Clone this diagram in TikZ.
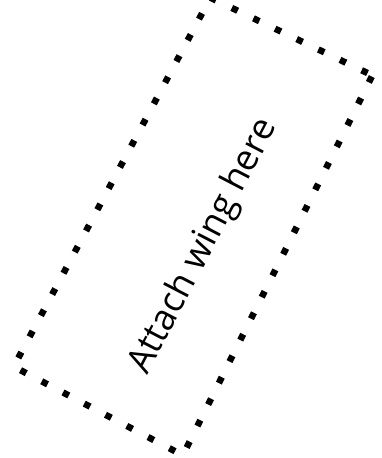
\documentclass[tikz,border=0pt]{standalone}
\usepackage{fontspec}
\setmainfont{Open Sans}
\begin{document}
\begin{tikzpicture}[x=1pt,y=1pt,
  dotted border/.style={line width=6.5pt, dash pattern=on 6.5pt off 17.5pt, dash phase=22.65pt, black},
  label text/.style={font=\fontsize{36}{43}\selectfont, inner sep=0pt, anchor=base west, rotate=62.5}]
\useasboundingbox (0,0) rectangle (382,458);
\coordinate (rc) at (372.4,382.6);
\coordinate (bc) at (182.8,2.7);
\coordinate (lc) at (13.69,91.4);
\coordinate (tc) at (210.4,460.3);
\draw[dotted border] (rc) -- (bc) -- (lc) -- (tc) -- cycle;
\node[label text] (lbl) at (147,82) {Attach wing here};
\end{tikzpicture}
\end{document}
